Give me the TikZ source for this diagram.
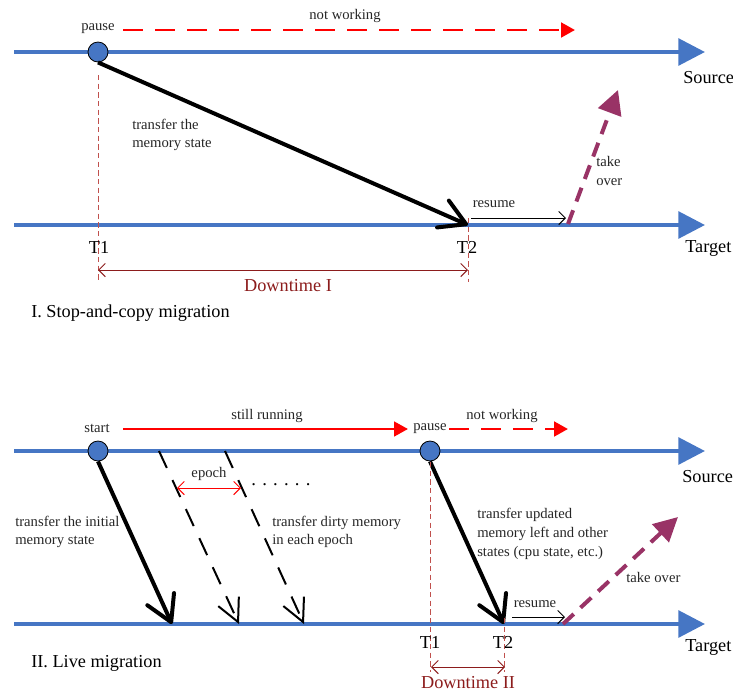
\documentclass[tikz,border=0pt]{standalone}
\usepackage{fontspec}
\setmainfont{Liberation Serif}
\usetikzlibrary{arrows.meta}
\definecolor{lineblue}{RGB}{70,118,196}
\definecolor{flowred}{RGB}{255,0,0}
\definecolor{takeover}{RGB}{153,51,102}
\definecolor{timemark}{RGB}{192,80,77}
\definecolor{downred}{RGB}{140,28,28}
\begin{document}
\begin{tikzpicture}[x=0.75pt,y=-0.75pt,
  timeline/.style={draw=lineblue, line width=3pt, -{Triangle[length=20pt,width=20pt]}},
  event/.style={circle, fill=lineblue, draw=black, line width=0.6pt, minimum size=15pt, inner sep=0pt},
  small/.style={font=\fontsize{11}{14}\selectfont, inner sep=0pt, text=black!85},
  big/.style={font=\fontsize{13.7}{16}\selectfont, inner sep=0pt},
  transfer/.style={draw=black, line width=3pt, -{Straight Barb[length=19pt,width=22pt,round]}},
  dirty/.style={draw=black, line width=1.5pt, dash pattern=on 14pt off 10pt, -{Straight Barb[length=17pt,width=17pt]}},
  stopped/.style={draw=flowred, line width=2.2pt, dash pattern=on 15pt off 9pt, -{Triangle[length=10.5pt,width=11pt]}},
  running/.style={draw=flowred, line width=2pt, -{Triangle[length=10.5pt,width=11pt]}},
  handover/.style={draw=takeover, line width=3pt, dash pattern=on 11pt off 7pt, -{Triangle[length=18pt,width=18pt]}},
  thinarrow/.style={draw=black, line width=0.7pt, -{Straight Barb[length=5pt,width=10pt]}},
  tmark/.style={draw=timemark, line width=0.6pt, dash pattern=on 4pt off 2.5pt},
  downspan/.style={draw=downred, line width=0.7pt, {Straight Barb[length=5pt,width=10pt]}-{Straight Barb[length=5pt,width=10pt]}},
  epochspan/.style={draw=flowred, line width=0.7pt, {Straight Barb[length=5pt,width=10pt]}-{Straight Barb[length=5pt,width=10pt]}}
]
\useasboundingbox (0,0) rectangle (733,694);

% ---------- I. Stop-and-copy migration ----------
\coordinate (aSrcL) at (14,52);
\coordinate (aSrcR) at (705,52);
\coordinate (aTgtL) at (14,225);
\coordinate (aTgtR) at (705,225);
\draw[timeline] (aSrcL) -- (aSrcR);
\draw[timeline] (aTgtL) -- (aTgtR);

\node[event] (aPause) at (98,52) {};
\node[small] (aPauseLbl) at (98,29) {pause};
\coordinate (aStopA) at (123,30);
\coordinate (aStopB) at (575,30);
\draw[stopped] (aStopA) -- (aStopB);
\node[small] (aNotWork) at (345,16) {not working};

\coordinate (aArrive) at (468,225);
\draw[transfer] (aPause.south) -- (aArrive);
\node[small, align=left, anchor=west] (aXfer) at (132,135) {transfer the\\memory state};

\coordinate (aResA) at (471,218);
\coordinate (aResB) at (566,218);
\draw[thinarrow] (aResA) -- (aResB);
\node[small] (aResume) at (494,204) {resume};

\coordinate (aTakeA) at (568,224);
\coordinate (aTakeB) at (618,90);
\draw[handover] (aTakeA) -- (aTakeB);
\node[small, align=left, anchor=west] (aTake) at (596,171) {take\\over};

\node[big, anchor=west] (aSource) at (683,78) {Source};
\node[big, anchor=west] (aTarget) at (685,248) {Target};

\coordinate (aT1top) at (98,75);
\coordinate (aT1bot) at (98,282);
\coordinate (aT2top) at (468,218);
\coordinate (aT2bot) at (468,282);
\draw[tmark] (aT1top) -- (aT1bot);
\draw[tmark] (aT2top) -- (aT2bot);
\node[big] (aT1) at (99,247) {T1};
\node[big] (aT2) at (467,247) {T2};
\coordinate (aDownL) at (98,270);
\coordinate (aDownR) at (468,270);
\draw[downspan] (aDownL) -- (aDownR);
\node[big, text=downred] (aDown) at (288,286) {Downtime I};
\node[big, anchor=west] (aTitle) at (31,313) {I. Stop-and-copy migration};

% ---------- II. Live migration ----------
\coordinate (bSrcL) at (14,451);
\coordinate (bSrcR) at (705,451);
\coordinate (bTgtL) at (14,624);
\coordinate (bTgtR) at (705,624);
\draw[timeline] (bSrcL) -- (bSrcR);
\draw[timeline] (bTgtL) -- (bTgtR);

\node[event] (bStart) at (98,451) {};
\node[small] (bStartLbl) at (97,428) {start};
\coordinate (bRunA) at (123,429);
\coordinate (bRunB) at (408,429);
\draw[running] (bRunA) -- (bRunB);
\node[small] (bRunning) at (267,416) {still running};

\node[event] (bPause) at (430,451) {};
\node[small] (bPauseLbl) at (430,429) {pause};
\coordinate (bStopA) at (449,429);
\coordinate (bStopB) at (568,429);
\draw[stopped] (bStopA) -- (bStopB);
\node[small] (bNotWork) at (502,416) {not working};

% initial copy
\coordinate (bArrive0) at (172,624);
\draw[transfer] (bStart.south) -- (bArrive0);
\node[small, align=left, anchor=west] (bXfer0) at (15,532) {transfer the initial\\memory state};

% dirty-page rounds
\coordinate (bD1a) at (159,451);
\coordinate (bD1b) at (239,624);
\coordinate (bD2a) at (225,451);
\coordinate (bD2b) at (304,624);
\draw[dirty] (bD1a) -- (bD1b);
\draw[dirty] (bD2a) -- (bD2b);
\coordinate (bEpL) at (177,488);
\coordinate (bEpR) at (241,488);
\draw[epochspan] (bEpL) -- (bEpR);
\node[small] (bEpoch) at (209,474) {epoch};
\node[font=\fontsize{14}{14}\selectfont, inner sep=0pt] (bDots) at (281,485) {. . . . . .};
\node[small, align=left, anchor=west] (bXferD) at (272,532) {transfer dirty memory\\in each epoch};

% final copy
\coordinate (bArrive1) at (504,624);
\draw[transfer] (bPause.south) -- (bArrive1);
\node[small, align=left, anchor=west] (bXfer1) at (477,534) {transfer updated\\memory left and other\\states (cpu state, etc.)};

\coordinate (bResA) at (512,617);
\coordinate (bResB) at (565,617);
\draw[thinarrow] (bResA) -- (bResB);
\node[small] (bResume) at (535,604) {resume};

\coordinate (bTakeA) at (563,624);
\coordinate (bTakeB) at (678,517);
\draw[handover] (bTakeA) -- (bTakeB);
\node[small, anchor=west] (bTake) at (626,577) {take over};

\node[big, anchor=west] (bSource) at (682,477) {Source};
\node[big, anchor=west] (bTarget) at (685,647) {Target};

\coordinate (bT1top) at (430,462);
\coordinate (bT1bot) at (430,672);
\coordinate (bT2top) at (504,618);
\coordinate (bT2bot) at (504,672);
\draw[tmark] (bT1top) -- (bT1bot);
\draw[tmark] (bT2top) -- (bT2bot);
\node[big] (bT1) at (430,642) {T1};
\node[big] (bT2) at (503,642) {T2};
\coordinate (bDownL) at (431,667);
\coordinate (bDownR) at (505,667);
\draw[downspan] (bDownL) -- (bDownR);
\node[big, text=downred] (bDown) at (468,683) {Downtime II};
\node[big, anchor=west] (bTitle) at (31,663) {II. Live migration};
\end{tikzpicture}
\end{document}
